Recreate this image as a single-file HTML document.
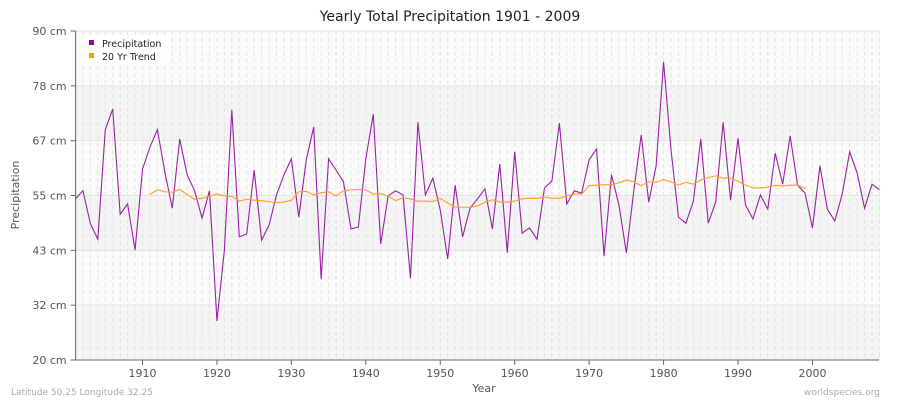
<!DOCTYPE html>
<html><head><meta charset="utf-8"><style>
body{margin:0;background:#fff;font-family:"Liberation Sans","DejaVu Sans",sans-serif;}
svg text{font-family:"DejaVu Sans","Liberation Sans",sans-serif;}
</style></head><body>
<svg id="chart" width="900" height="400" xmlns="http://www.w3.org/2000/svg">
<rect width="900" height="400" fill="#fff"/>
<text x="450" y="21" text-anchor="middle" font-size="14" fill="#222">Yearly Total Precipitation 1901 - 2009</text>
<g id="bands"></g><g id="grid"></g><g id="axes"></g><g id="series"></g>
<g>
<rect x="80" y="35" width="90" height="29" rx="4" fill="#fff" opacity="0.9"/>
<rect x="89" y="40" width="5" height="5" fill="#990099"/>
<text x="102" y="47" font-size="9.5" fill="#222">Precipitation</text>
<rect x="89" y="53" width="5" height="5" fill="#ff9900"/>
<text x="102" y="60" font-size="9.5" fill="#222">20 Yr Trend</text>
</g>
<text x="484" y="392" text-anchor="middle" font-size="11" fill="#555">Year</text>
<text x="19" y="195" text-anchor="middle" font-size="11" fill="#555" transform="rotate(-90 19 195)">Precipitation</text>
<text x="11" y="395" font-size="9" fill="#aaa">Latitude 50.25 Longitude 32.25</text>
<text x="880" y="395" text-anchor="end" font-size="9" fill="#aaa">worldspecies.org</text>
</svg>
<script>
const years=[];for(let y=1901;y<=2009;y++)years.push(y);
const precip=[54.3,56,49,45.7,69,73.4,51,53.2,43.4,60.6,65.3,69,60,52.3,67,59.4,56,50.2,56,28.3,43.4,73.2,46.2,46.8,60.4,45.5,48.7,55.1,59.4,62.8,50.4,62.6,69.6,37.2,62.8,60.4,57.9,47.9,48.3,62.8,72.3,44.7,54.9,56,55.1,37.4,70.6,55.1,58.7,51.9,41.5,57.2,46.2,52.3,54.3,56.4,47.9,61.7,42.8,64.3,47,48.1,45.7,56.6,58.1,70.4,53.2,56,55.5,62.6,64.9,42.1,59.4,53,42.8,56,67.9,53.6,61.3,83.4,64.7,50.4,49.1,53.8,67,49.1,53.6,70.6,54,67.2,53,50,55.1,52.1,64,57.4,67.7,57.2,55.5,48.1,61.3,52.1,49.6,55.3,64.3,59.8,52.3,57.4,56.2];
const trendYears=[];for(let y=1911;y<=1999;y++)trendYears.push(y);
const trend=[55.2,56.2,55.8,55.7,56.3,55.2,54.2,54.4,54.9,55.3,54.9,54.8,53.8,54.2,54,53.9,53.7,53.5,53.6,54,55.8,55.9,55.1,55.6,55.8,54.9,56,56.2,56.3,56.2,55.3,55.4,54.9,53.9,54.5,54.3,53.8,53.8,53.7,54.4,53.4,52.5,52.5,52.5,52.8,53.5,54.1,53.6,53.6,53.8,54.3,54.4,54.4,54.7,54.4,54.4,54.9,55.3,55.3,57.1,57.2,57.3,57.3,57.7,58.3,57.9,57.1,57.9,57.8,58.4,57.9,57.2,57.8,57.4,58.3,58.8,59.2,58.7,58.7,58,57.2,56.6,56.6,56.8,57.2,57,57.2,57.2,56.5];
const yTicks=[20,31.667,43.333,55,66.667,78.333,90];
const yLabels=["20 cm","32 cm","43 cm","55 cm","67 cm","78 cm","90 cm"];
const xTicks=[1910,1920,1930,1940,1950,1960,1970,1980,1990,2000];
const X0=75.6,X1=879,Y0=360,Y1=31;
const xs=y=>142.5+(y-1910)*7.444;
const ys=v=>Y0-(v-20)/70*(Y0-Y1);
const NS="http://www.w3.org/2000/svg";
function mk(t,a,p){const e=document.createElementNS(NS,t);for(const k in a)e.setAttribute(k,a[k]);p.appendChild(e);return e;}
const bands=document.getElementById('bands'),grid=document.getElementById('grid'),axes=document.getElementById('axes'),series=document.getElementById('series');
for(let i=0;i<6;i++){
 const r=mk('rect',{x:X0,y:ys(yTicks[i+1]),width:X1-X0+1,height:ys(yTicks[i])-ys(yTicks[i+1]),fill:i%2==0?'#f4f4f4':'#fafafa'},bands);
 
 
}
years.forEach(y=>{mk('line',{x1:xs(y),x2:xs(y),y1:Y1,y2:Y0,stroke:'#e2e2e2','stroke-dasharray':'4,3','stroke-width':1},grid);});
yTicks.forEach((v,i)=>{
 mk('line',{x1:X0,x2:X1,y1:ys(v),y2:ys(v),stroke:'#e4e4e4','stroke-width':1},grid);
 mk('line',{x1:X0-5,x2:X0,y1:ys(v),y2:ys(v),stroke:'#666'},axes);
 const t=mk('text',{x:X0-9,y:ys(v)+4,'text-anchor':'end','font-size':11,fill:'#555'},axes);t.textContent=yLabels[i];
 
 
});
xTicks.forEach(y=>{
 mk('line',{x1:xs(y),x2:xs(y),y1:Y0,y2:Y0+5,stroke:'#666'},axes);
 const t=mk('text',{x:xs(y),y:Y0+17,'text-anchor':'middle','font-size':11,fill:'#555'},axes);t.textContent=y;
 
 
});
mk('line',{x1:X0,x2:X0,y1:Y1,y2:Y0,stroke:'#666'},axes);
mk('line',{x1:X0,x2:X1,y1:Y0,y2:Y0,stroke:'#666'},axes);
const p1=mk('polyline',{points:years.map((y,i)=>xs(y)+','+ys(precip[i])).join(' '),fill:'none',stroke:'#9b1fa6','stroke-width':1.1},series);


const p2=mk('polyline',{points:trendYears.map((y,i)=>xs(y)+','+ys(trend[i])).join(' '),fill:'none',stroke:'#ffa020','stroke-width':1.1},series);


</script>
</body></html>
